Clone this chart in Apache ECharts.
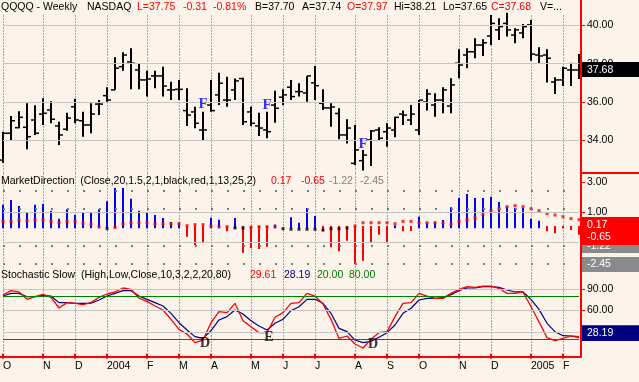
<!DOCTYPE html>
<html>
<head>
<meta charset="utf-8">
<script src="https://cdn.jsdelivr.net/npm/echarts@6.0.0/dist/echarts.min.js"></script>
<style>
html,body{margin:0;padding:0;background:#fcf3ea;overflow:hidden}
#chart{width:639px;height:382px}
</style>
</head>
<body>
<div id="chart"></div>
<script>
// ---------------- data ----------------
const weeks = ['2003-10-03','2003-10-10','2003-10-17','2003-10-24','2003-10-31','2003-11-07','2003-11-14','2003-11-21','2003-11-28','2003-12-05','2003-12-12','2003-12-19','2003-12-26',
'2004-01-02','2004-01-09','2004-01-16','2004-01-23','2004-01-30','2004-02-06','2004-02-13','2004-02-20','2004-02-27','2004-03-05','2004-03-12','2004-03-19','2004-03-26',
'2004-04-02','2004-04-09','2004-04-16','2004-04-23','2004-04-30','2004-05-07','2004-05-14','2004-05-21','2004-05-28','2004-06-04','2004-06-11','2004-06-18','2004-06-25',
'2004-07-02','2004-07-09','2004-07-16','2004-07-23','2004-07-30','2004-08-06','2004-08-13','2004-08-20','2004-08-27','2004-09-03','2004-09-10','2004-09-17','2004-09-24',
'2004-10-01','2004-10-08','2004-10-15','2004-10-22','2004-10-29','2004-11-05','2004-11-12','2004-11-19','2004-11-26','2004-12-03','2004-12-10','2004-12-17','2004-12-24','2004-12-31',
'2005-01-07','2005-01-14','2005-01-21','2005-01-28','2005-02-04','2005-02-11','2005-02-18'];

const openP  = [32.97,34.37,34.66,34.68,35.06,35.37,35.58,34.75,34.58,35.75,35.02,34.80,35.89,36.33,36.63,37.84,38.09,37.67,37.15,37.36,37.36,36.63,36.66,35.55,35.48,34.54,35.84,36.37,36.10,36.63,37.22,35.48,34.75,34.54,35.84,36.25,36.77,36.54,36.47,37.00,35.93,35.69,35.40,34.28,32.80,32.94,34.02,34.54,34.45,34.54,35.37,35.06,34.54,35.99,35.84,36.10,35.79,38.02,38.45,38.62,38.97,39.44,39.76,40.10,39.49,39.60,40.02,38.45,38.45,37.04,37.15,37.67,37.67];
const highP  = [34.45,35.27,35.51,35.93,35.83,36.19,36.04,34.97,35.44,36.17,35.49,35.93,36.10,36.77,38.33,38.59,38.80,38.02,37.63,37.63,37.84,37.06,37.15,36.71,35.75,35.49,37.15,37.53,37.32,37.22,37.27,35.75,35.44,35.49,36.59,36.66,37.15,36.98,37.36,37.88,36.66,35.93,35.67,35.10,34.80,33.50,34.54,34.68,34.89,35.23,35.55,35.84,36.10,36.66,36.45,36.77,37.24,38.75,38.80,39.32,39.27,40.54,40.37,40.66,39.84,40.07,40.28,38.85,38.75,37.29,37.84,38.05,38.50];
const lowP   = [32.83,33.98,34.63,33.53,34.28,34.80,34.89,33.76,34.50,34.89,34.19,34.37,35.32,36.01,36.63,37.63,36.66,36.66,36.28,36.71,36.28,36.10,36.10,34.75,34.63,33.98,35.49,35.84,35.75,36.10,34.80,34.75,34.23,34.11,34.92,35.84,36.10,36.28,36.01,36.10,35.58,34.71,34.05,33.84,32.71,32.42,32.66,34.02,33.67,34.16,34.80,34.80,34.28,35.55,35.23,35.41,35.41,37.24,37.76,38.28,38.40,38.97,39.23,39.41,39.06,39.32,38.15,38.02,37.01,36.42,36.83,36.83,37.20];
const closeP = [34.37,35.02,35.20,34.19,34.37,35.41,35.10,34.28,35.16,35.06,34.80,35.37,35.89,36.10,37.76,38.45,38.02,37.15,37.20,37.36,36.83,36.63,36.66,35.32,34.89,34.54,35.55,36.98,36.10,37.10,34.97,34.89,34.64,34.45,35.67,36.37,36.28,36.54,37.36,36.85,35.69,35.74,34.28,34.64,33.50,33.23,34.49,34.11,34.64,35.20,35.32,35.37,36.10,36.42,36.10,36.63,36.89,37.93,38.62,38.97,39.09,40.10,39.93,39.76,39.76,39.93,38.50,38.40,38.28,37.15,37.76,37.67,37.68];

const mdHist = [1.52,1.83,1.43,1.03,1.52,1.57,1.12,0.59,1.21,0.85,0.99,0.99,1.21,1.75,2.63,2.63,1.92,1.12,1.03,0.83,0.63,0.37,0.32,-0.61,-1.19,-1.01,0.65,0.52,-0.25,0.63,-1.68,-1.37,-1.43,-1.28,0.2,0,0.68,0.32,1.3,0.77,-0.23,-1.32,-1.59,-0.88,-2.45,-2.21,-1.01,-0.48,-1.01,0.15,-0.25,-0.23,0.72,0.32,0.37,0.5,1.35,1.97,2.23,1.97,1.97,2.05,1.7,1.39,1.3,1.3,0.59,0.45,-0.25,-0.39,-0.05,-0.17,-0.48];
const mdLine = [0.39,0.39,0.48,0.45,0.48,0.52,0.39,0.32,0.39,0.39,0.30,0.23,0.05,-0.08,0.01,0.25,0.32,0.32,0.32,0.25,0.25,0.25,0.25,0.12,0.19,0.19,0.08,0.05,0.05,-0.03,-0.03,0.01,0.05,0.05,0.05,-0.08,-0.12,-0.12,-0.12,-0.12,-0.17,-0.08,-0.08,-0.03,0.10,0.32,0.32,0.32,0.32,0.25,0.41,0.41,0.32,0.32,0.32,0.32,0.23,0.39,0.52,0.65,0.85,1.12,1.25,1.39,1.45,1.39,1.25,1.12,0.92,0.83,0.72,0.59,0.52];
const mdPosBase = -0.05;
const mdNegBase = 0.1;

const stochK = [81.4,87.4,85.6,75.4,79,82.3,78.2,63.4,70.8,69.9,68,70.8,78.2,82.8,85.6,91.1,89.3,77.2,72.6,66.2,60.6,47.7,33.8,27.4,15.4,19,43,58.3,56.9,69.9,45.8,37.5,29.2,29.2,50.5,56.9,69.9,70.8,83.7,80,68.9,47.7,21.3,24.6,13.5,8,20,29.2,30.6,51.4,69.9,70.8,83.7,80,76.8,76.8,83.7,89.3,92.9,92,93.8,93.8,90.7,83.7,83.7,85.6,65.2,44.4,22.3,18.1,21.3,24.6,23.6];
const stochD = [80,83.7,83.7,79,79,80.9,80,70.8,70.8,69.9,69.9,69.9,74.5,80,83.7,87.4,87.4,80,75.4,70.8,66.2,56,43,32.9,23.7,21.3,31.9,46.8,51.4,60.6,55.1,45.8,38.5,32.9,42.2,47.7,59.7,65.2,75.4,75.4,69.9,56,35.2,30.6,19,15.4,17.2,22.8,29.2,39.8,56,63,74.5,76.8,76.8,77.7,81.9,87.4,91.1,91.1,92.9,92.9,92,88.3,85.6,85.6,75.4,61.5,42.2,30.6,25,24.6,22.8];

const priceTicks = [34, 36, 38, 40];
const mdTicks = [1, 3];
const mdGridVals = [1, -1];
const mdBands = [2.45, 1.22, -1.22, -2.45];
const stochTicks = [30, 60, 90];
const stochBands = [20, 80];
const monthInitials = ['J','F','M','A','M','J','J','A','S','O','N','D'];

const fMarks = [[25, 35.89], [33, 35.84], [45, 33.78]];
const stochMarks = [[25, 14.9, 'D'], [33, 22.5, 'E'], [46, 12.8, 'D']];

const headerTexts = ['QQQQ - Weekly','NASDAQ','L=37.75','-0.31','-0.81%','B=37.70','A=37.74','O=37.97','Hi=38.21','Lo=37.65','C=37.68','V=...'];
const lastPrice = 37.68;
const mdLast = [0.17, -0.65, -1.22, -2.45];
const stochLast = [29.61, 28.19];
const mdTitle = 'MarketDirection  (Close,20,1.5,2,1,black,red,1,13,25,2)';
const stochTitle = 'Stochastic Slow  (High,Low,Close,10,3,2,2,20,80)';

// ---------------- layout / style ----------------
const FONT = '"Liberation Sans", Arial, sans-serif';
const SERIF = '"Liberation Serif", "Times New Roman", serif';
const RED = '#ff0000', NAVY = '#000080', GREEN = '#008000', BLUE = '#0000ff', GRAY = '#808080';
const headerColors = ['#000','#000',RED,RED,RED,'#000','#000',RED,'#000','#000',RED,'#000'];
const headerX = [1, 87, 137, 183, 213, 255, 302, 347, 394, 443, 491, 540];
const mdTitleX = [1, 271, 301, 329, 360];
const mdTitleColors = ['#000', RED, RED, GRAY, GRAY];
const stochTitleX = [1, 250, 284, 317, 349];
const stochTitleColors = ['#000', RED, NAVY, GREEN, GREEN];
const mdBoxColors = [RED, RED, '#8a8a8a', '#8a8a8a'];
const stochBoxColors = [RED, NAVY];

const monthStart = weeks.map((d, i) => i === 0 || d.slice(5, 7) !== weeks[i - 1].slice(5, 7));
const monthLabel = d => d.slice(5, 7) === '01' ? d.slice(0, 4) : monthInitials[parseInt(d.slice(5, 7), 10) - 1];
const atMonth = i => monthStart[i];

const chart = echarts.init(document.getElementById('chart'), null, {renderer: 'canvas', width: 639, height: 382});

function xAxisFor(g, showAxis) {
  return {
    type: 'category', gridIndex: g, data: weeks, boundaryGap: false,
    axisLine: {show: false},
    axisTick: {show: showAxis, interval: atMonth, length: 5, lineStyle: {color: RED, width: 2}},
    axisLabel: {show: showAxis, interval: atMonth, formatter: v => monthLabel(v), align: 'left', margin: 4,
      color: '#000', fontSize: 10.5, fontFamily: FONT},
    splitLine: {show: true, interval: atMonth, lineStyle: {color: '#a4a4a4', width: 1, type: [2, 1]}}
  };
}
function yAxisFor(g, min, max, ticks) {
  return {
    type: 'value', gridIndex: g, position: 'right', offset: 2, min: min, max: max,
    axisLine: {show: false}, splitLine: {show: false},
    axisTick: {show: true, customValues: ticks, length: 4, lineStyle: {color: RED, width: 1}},
    axisLabel: {customValues: ticks, formatter: v => v.toFixed(2), margin: 6, color: '#000', fontSize: 10.5, fontFamily: FONT}
  };
}
function hLines(g, items) {
  return {
    type: 'line', xAxisIndex: g, yAxisIndex: g, data: [], z: 1, silent: true,
    markLine: {silent: true, symbol: ['none', 'none'], label: {show: false}, emphasis: {disabled: true}, animation: false,
      data: items}
  };
}

const option = {
  animation: false,
  backgroundColor: 'transparent',
  grid: [
    {left: 3, width: 576, top: 15, height: 157.7, outerBoundsMode: 'none'},
    {left: 3, width: 576, top: 173, height: 93, outerBoundsMode: 'none'},
    {left: 3, width: 576, top: 266, height: 91, outerBoundsMode: 'none'}
  ],
  xAxis: [xAxisFor(0, false), xAxisFor(1, false), xAxisFor(2, true)],
  yAxis: [
    yAxisFor(0, 32.311, 40.537, priceTicks),
    yAxisFor(1, -2.567, 3.633, mdTicks),
    yAxisFor(2, -4.5, 121.59, stochTicks)
  ],
  series: [
    hLines(0, priceTicks.map(v => ({yAxis: v, lineStyle: {color: '#c4c4c4', width: 1, type: 'solid'}}))),
    {
      type: 'custom', xAxisIndex: 0, yAxisIndex: 0, z: 3, silent: true,
      data: weeks.map((d, i) => [i, openP[i], highP[i], lowP[i], closeP[i]]),
      renderItem: (p, api) => {
        const i = api.value(0);
        const h = api.coord([i, api.value(2)]);
        const l = api.coord([i, api.value(3)]);
        const o = api.coord([i, api.value(1)]);
        const c = api.coord([i, api.value(4)]);
        const x = Math.round(h[0]);
        return {type: 'group', children: [
          {type: 'line', shape: {x1: x, y1: h[1], x2: x, y2: l[1]}, style: {stroke: '#000', lineWidth: 2}},
          {type: 'line', shape: {x1: x - 4, y1: o[1], x2: x, y2: o[1]}, style: {stroke: '#000', lineWidth: 1.5}},
          {type: 'line', shape: {x1: x, y1: c[1], x2: x + 4, y2: c[1]}, style: {stroke: '#000', lineWidth: 1.5}}
        ]};
      }
    },
    {
      type: 'scatter', xAxisIndex: 0, yAxisIndex: 0, z: 5, silent: true, symbolSize: 1,
      itemStyle: {color: 'transparent'},
      data: fMarks.map(m => [m[0], m[1]]),
      label: {show: true, position: 'inside', formatter: 'F', color: BLUE, fontFamily: SERIF, fontWeight: 'bold', fontSize: 15}
    },
    hLines(1, mdGridVals.map(v => ({yAxis: v, lineStyle: {color: '#c4c4c4', width: 1, type: 'solid'}}))
      .concat(mdBands.map(v => ({yAxis: v, lineStyle: {color: '#7a7a7a', width: 2, type: [2, 14]}})))),
    {
      type: 'custom', xAxisIndex: 1, yAxisIndex: 1, z: 3, silent: true,
      data: mdHist.map((v, i) => [i, v]),
      renderItem: (p, api) => {
        const i = api.value(0), v = api.value(1);
        if (!v) return null;
        const a = api.coord([i, v > 0 ? mdPosBase : mdNegBase]);
        const b = api.coord([i, v]);
        const x = Math.round(a[0]);
        return {type: 'line', shape: {x1: x, y1: a[1], x2: x, y2: b[1]},
          style: {stroke: v > 0 ? BLUE : RED, lineWidth: 2}};
      }
    },
    {
      type: 'scatter', xAxisIndex: 1, yAxisIndex: 1, z: 4, silent: true, symbol: 'rect', symbolSize: 3,
      data: mdLine.map((v, i) => [i, v]),
      itemStyle: {color: p => p.value[1] < 0 ? '#000' : RED}
    },
    hLines(2, stochTicks.map(v => ({yAxis: v, lineStyle: {color: '#c4c4c4', width: 1, type: 'solid'}}))
      .concat(stochBands.map(v => ({yAxis: v, lineStyle: {color: GREEN, width: 1, type: 'solid'}})))),
    {
      type: 'line', xAxisIndex: 2, yAxisIndex: 2, z: 3, silent: true, showSymbol: false,
      data: stochD, lineStyle: {color: NAVY, width: 1.2}
    },
    {
      type: 'line', xAxisIndex: 2, yAxisIndex: 2, z: 4, silent: true, showSymbol: false,
      data: stochK, lineStyle: {color: RED, width: 1.3}
    },
    {
      type: 'scatter', xAxisIndex: 2, yAxisIndex: 2, z: 6, silent: true, symbolSize: 1,
      itemStyle: {color: 'transparent'},
      data: stochMarks.map(m => ({value: [m[0], m[1]], name: m[2]})),
      label: {show: true, position: 'inside', formatter: '{b}', offset: [2, 0], color: '#000', fontFamily: SERIF, fontWeight: 'bold', fontSize: 14}
    }
  ]
};
chart.setOption(option);

// ---------------- overlays: texts, frame lines, last-value boxes ----------------
const g = [];
const txt = (text, x, y, color, z) => ({type: 'text', x: x, y: y, z: z || 50, silent: true,
  style: {text: text, fill: color, font: '10.5px ' + FONT, align: 'left', verticalAlign: 'middle'}});

headerTexts.forEach((t, i) => g.push(txt(t, headerX[i], 7, headerColors[i])));
[mdTitle].concat(mdLast.map(v => v.toFixed(2))).forEach((t, i) => g.push(txt(t, mdTitleX[i], 181, mdTitleColors[i])));
[stochTitle].concat(stochLast.map(v => v.toFixed(2)), stochBands.map(v => v.toFixed(2)))
  .forEach((t, i) => g.push(txt(t, stochTitleX[i], 275, stochTitleColors[i])));

// frame
g.push({type: 'line', z: 60, silent: true, shape: {x1: 581, y1: 0, x2: 581, y2: 358}, style: {stroke: RED, lineWidth: 2}});
g.push({type: 'line', z: 60, silent: true, shape: {x1: 581, y1: 173, x2: 639, y2: 173}, style: {stroke: RED, lineWidth: 2}});
g.push({type: 'line', z: 60, silent: true, shape: {x1: 0, y1: 357, x2: 582, y2: 357}, style: {stroke: RED, lineWidth: 2}});

let boxZ = 80;
function box(axisIdx, value, color, text) {
  const y = chart.convertToPixel({yAxisIndex: axisIdx}, value);
  g.push({type: 'rect', z: boxZ++, silent: true, shape: {x: 582, y: Math.round(y - 7.5), width: 57, height: 15}, style: {fill: color}});
  g.push(txt(text, 587, Math.round(y), '#fff', boxZ++));
}
box(0, lastPrice, '#000', lastPrice.toFixed(2));
[3, 2, 1, 0].forEach(i => box(1, mdLast[i], mdBoxColors[i], mdLast[i].toFixed(2)));
[0, 1].forEach(i => box(2, stochLast[i], stochBoxColors[i], stochLast[i].toFixed(2)));

chart.setOption({graphic: g});
</script>
</body>
</html>
